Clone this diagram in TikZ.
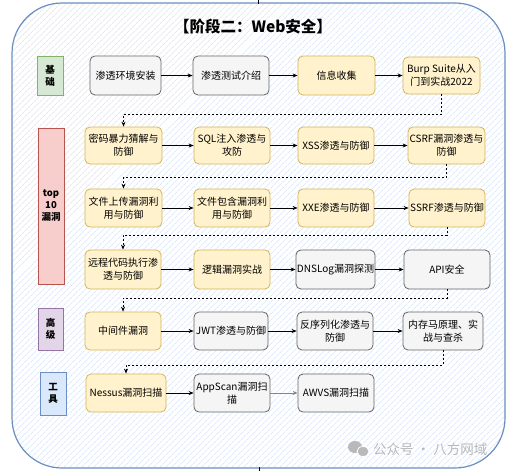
\documentclass[tikz,border=0pt]{standalone}
\usepackage{fontspec}
\setmainfont{Noto Sans CJK SC}
\usetikzlibrary{arrows.meta,patterns.meta}
\definecolor{cstroke}{RGB}{108,142,191}
\definecolor{hatch}{RGB}{205,220,242}
\definecolor{gfill}{RGB}{245,245,245}
\definecolor{gstroke}{RGB}{102,102,102}
\definecolor{yfill}{RGB}{255,242,204}
\definecolor{ystroke}{RGB}{214,182,86}
\definecolor{grfill}{RGB}{213,232,212}
\definecolor{grstroke}{RGB}{130,179,102}
\definecolor{pkfill}{RGB}{248,206,204}
\definecolor{pkstroke}{RGB}{184,84,80}
\definecolor{pufill}{RGB}{225,213,231}
\definecolor{pustroke}{RGB}{150,115,166}
\definecolor{blfill}{RGB}{218,232,252}
\definecolor{blstroke}{RGB}{108,142,191}
\definecolor{wm}{RGB}{185,185,185}
\tikzset{
  box/.style={rounded corners=5pt, draw, line width=0.8pt, align=center,
    font=\fontsize{10}{13}\selectfont, inner sep=1pt},
  gbox/.style={box, fill=gfill, draw=gstroke},
  ybox/.style={box, fill=yfill, draw=ystroke},
  sz/.style 2 args={minimum width=#1pt, minimum height=#2pt},
  lab/.style={line width=0.9pt, align=center,
    font=\bfseries\fontsize{9.5}{12}\selectfont, inner sep=0pt},
  arr/.style={-{Stealth[length=5pt,width=4pt]}, line width=0.7pt},
  darr/.style={arr, dash pattern=on 2pt off 2pt},
}
\begin{document}
\begin{tikzpicture}[x=1pt,y=-1pt]
\useasboundingbox (0,0) rectangle (511,471);
\fill[white] (0,0) rectangle (511,471);
% container
\draw[draw=cstroke, line width=1.2pt, rounded corners=50pt,
  pattern={Lines[angle=45,distance=4pt,line width=0.6pt]}, pattern color=hatch]
  (12,3) rectangle (505,468);
\draw[line width=1pt] (258,0) -- (258,4);
\draw[line width=1pt] (259,467) -- (259,471);
% title
\node[font=\bfseries\fontsize{15.5}{16}\selectfont] (title) at (253,27) {【阶段二：Web安全】};
% labels
\node[lab, fill=grfill, draw=grstroke, sz={26}{39}] (L1) at (50,75.5) {基\\础};
\node[lab, fill=pkfill, draw=pkstroke, sz={26}{156}] (L2) at (51,206) {top\\10\\漏洞};
\node[lab, fill=pufill, draw=pustroke, sz={25}{42}] (L3) at (50.5,329) {高\\级};
\node[lab, fill=blfill, draw=blstroke, sz={26}{43}] (L4) at (53,393.5) {工\\具};
% row 1
\node[gbox, sz={71}{39}] (a1) at (125.5,75.5) {渗透环境安装};
\node[gbox, sz={76}{39}] (a2) at (231,75.5) {渗透测试介绍};
\node[ybox, sz={77}{39}] (a3) at (336.5,75.5) {信息收集};
\node[ybox, sz={77}{37}] (a4) at (441.5,75.5) {Burp Suite从入\\门到实战2022};
% row 2
\node[ybox, sz={77}{37}] (b1) at (123.5,145.5) {密码暴力猜解与\\防御};
\node[ybox, sz={76}{37}] (b2) at (232,145.5) {SQL注入渗透与\\攻防};
\node[ybox, sz={76}{37}] (b3) at (336,145.5) {XSS渗透与防御};
\node[ybox, sz={77}{37}] (b4) at (446.5,145.5) {CSRF漏洞渗透与\\防御};
% row 3
\node[ybox, sz={77}{38}] (c1) at (123.5,208) {文件上传漏洞利\\用与防御};
\node[ybox, sz={76}{38}] (c2) at (232,208) {文件包含漏洞利\\用与防御};
\node[ybox, sz={76}{38}] (c3) at (336,208) {XXE渗透与防御};
\node[ybox, sz={76}{38}] (c4) at (447,208) {SSRF渗透与防御};
% row 4
\node[ybox, sz={76}{39}] (d1) at (123,269.5) {远程代码执行渗\\透与防御};
\node[ybox, sz={76}{39}] (d2) at (232,269.5) {逻辑漏洞实战};
\node[gbox, sz={75}{39}] (d3) at (335.5,269.5) {DNSLog漏洞探测};
\node[gbox, sz={86}{39}] (d4) at (447,269.5) {API安全};
% row 5
\node[ybox, sz={76}{38}] (e1) at (123,331) {中间件漏洞};
\node[gbox, sz={74}{38}] (e2) at (231,331) {JWT渗透与防御};
\node[gbox, sz={76}{38}] (e3) at (335,331) {反序列化渗透与\\防御};
\node[gbox, sz={80}{38}] (e4) at (443,331) {内存马原理、实\\战与查杀};
% row 6
\node[ybox, sz={80}{38}] (f1) at (126,393) {Nessus漏洞扫描};
\node[gbox, sz={76}{38}] (f2) at (232,393) {AppScan漏洞扫\\描};
\node[gbox, sz={76}{38}] (f3) at (336,393) {AWVS漏洞扫描};
% horizontal arrows
\draw[arr] (a1.east) -- (a2.west);
\draw[arr] (a2.east) -- (a3.west);
\draw[arr] (a3.east) -- (a4.west);
\draw[arr] (b1.east) -- (b2.west);
\draw[arr] (b2.east) -- (b3.west);
\draw[arr] (b3.east) -- (b4.west);
\draw[arr] (c1.east) -- (c2.west);
\draw[arr] (c2.east) -- (c3.west);
\draw[arr] (c3.east) -- (c4.west);
\draw[arr] (d1.east) -- (d2.west);
\draw[arr] (d2.east) -- (d3.west);
\draw[arr] (d3.east) -- (d4.west);
\draw[arr] (e1.east) -- (e2.west);
\draw[arr] (e2.east) -- (e3.west);
\draw[arr] (e3.east) -- (e4.west);
\draw[arr] (f1.east) -- (f2.west);
\draw[arr, draw=gstroke!80] (f2.east) -- (f3.west);
% dashed row links
\draw[darr] (a4.south) -- ++(0,20) -| (b1.north);
\draw[darr] (b4.south) -- ++(0,13) -| (c1.north);
\draw[darr] (c4.south) -- ++(0,8) -| (d1.north);
\draw[darr] (d4.south) -- ++(0,9) -| (e1.north);
\draw[darr] (e4.south) -- ++(0,15) -| (f1.north);
% watermark
\fill[wm] (355,447) ellipse (7pt and 6pt);
\fill[wm, draw=white, line width=0.8pt] (363,451.5) ellipse (6pt and 5pt);
\node[text=wm, font=\fontsize{13.5}{14}\selectfont, anchor=west, inner sep=0pt] (wmt) at (373,449) {公众号 · 八方网域};
\end{tikzpicture}
\end{document}
